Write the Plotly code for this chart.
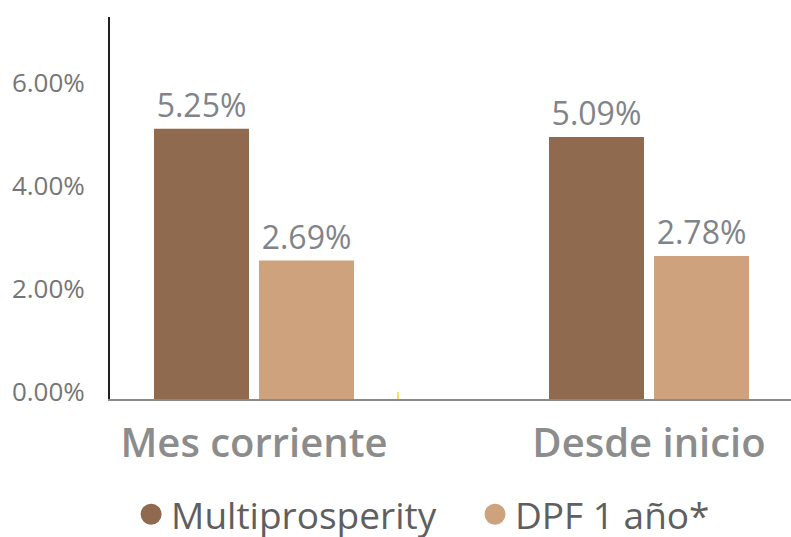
import plotly.graph_objects as go

categories = ["Mes corriente", "Desde inicio"]
multi_vals = [5.25, 5.09]
dpf_vals = [2.69, 2.78]
series_names = ["Multiprosperity", "DPF 1 año*"]
colors = ["#8f6a4e", "#cfa27e"]
tick_vals = [0, 2, 4, 6]
tick_text = ["0.00%", "2.00%", "4.00%", "6.00%"]

FONT = "Open Sans"
LABEL = dict(family=FONT, size=32, color="#80848a")
fig = go.Figure()
fig.add_trace(go.Bar(
    x=categories, y=multi_vals, name=series_names[0], showlegend=False,
    marker=dict(color=colors[0], line=dict(width=0)),
    width=0.2405, offset=-0.2532,
    text=[f"{v:.2f}%" for v in multi_vals], textposition="outside",
    textfont=LABEL, cliponaxis=False,
))
fig.add_trace(go.Bar(
    x=categories, y=dpf_vals, name=series_names[1], showlegend=False,
    marker=dict(color=colors[1], line=dict(width=0)),
    width=0.2405, offset=0.0127,
    text=[f"{v:.2f}%" for v in dpf_vals], textposition="outside",
    textfont=LABEL, cliponaxis=False,
))
# legend entries with circular markers, one legend box each
for name, c, lg in zip(series_names, colors, ["legend", "legend2"]):
    fig.add_trace(go.Scatter(x=[None], y=[None], mode="markers", name=name, legend=lg,
                             marker=dict(symbol="circle", size=16, color=c,
                                         line=dict(color=c, width=5))))

LEG = dict(orientation="h", xanchor="left", y=-0.303, yanchor="middle",
           font=dict(family=FONT, size=37, color="#5f5f5f"),
           itemsizing="trace", itemwidth=30, bgcolor="rgba(0,0,0,0)")
fig.update_layout(
    width=791, height=537,
    margin=dict(l=110, r=0, t=17, b=138, autoexpand=False),
    plot_bgcolor="white", paper_bgcolor="white",
    barmode="group",
    font=dict(family=FONT),
    showlegend=True,
    legend=dict(LEG, x=0.031),
    legend2=dict(LEG, x=0.536),
    xaxis=dict(
        type="category", range=[-0.3646, 1.3595], automargin=False,
        showline=True, linecolor="#8a8a8a", linewidth=2,
        ticks="", showgrid=False, ticklabelstandoff=8,
        tickfont=dict(family=FONT, size=40, color="#8c8c8c", weight=600),
    ),
    yaxis=dict(
        range=[0, 7.42], tickvals=tick_vals, ticktext=tick_text, automargin=False,
        showline=True, linecolor="#231f20", linewidth=2,
        showgrid=False, zeroline=False, ticks="",
        tickfont=dict(family=FONT, size=26, color="#767676"),
        ticklabelshift=-7, ticklabelstandoff=18,
    ),
    shapes=[dict(type="line", xref="paper", yref="paper", x0=0.423, x1=0.423,
                 y0=0.0, y1=0.018, line=dict(color="#ffd966", width=2))],
)
fig.write_html("out.html", config={"displayModeBar": False},
               post_script="document.body.style.margin='0';")
